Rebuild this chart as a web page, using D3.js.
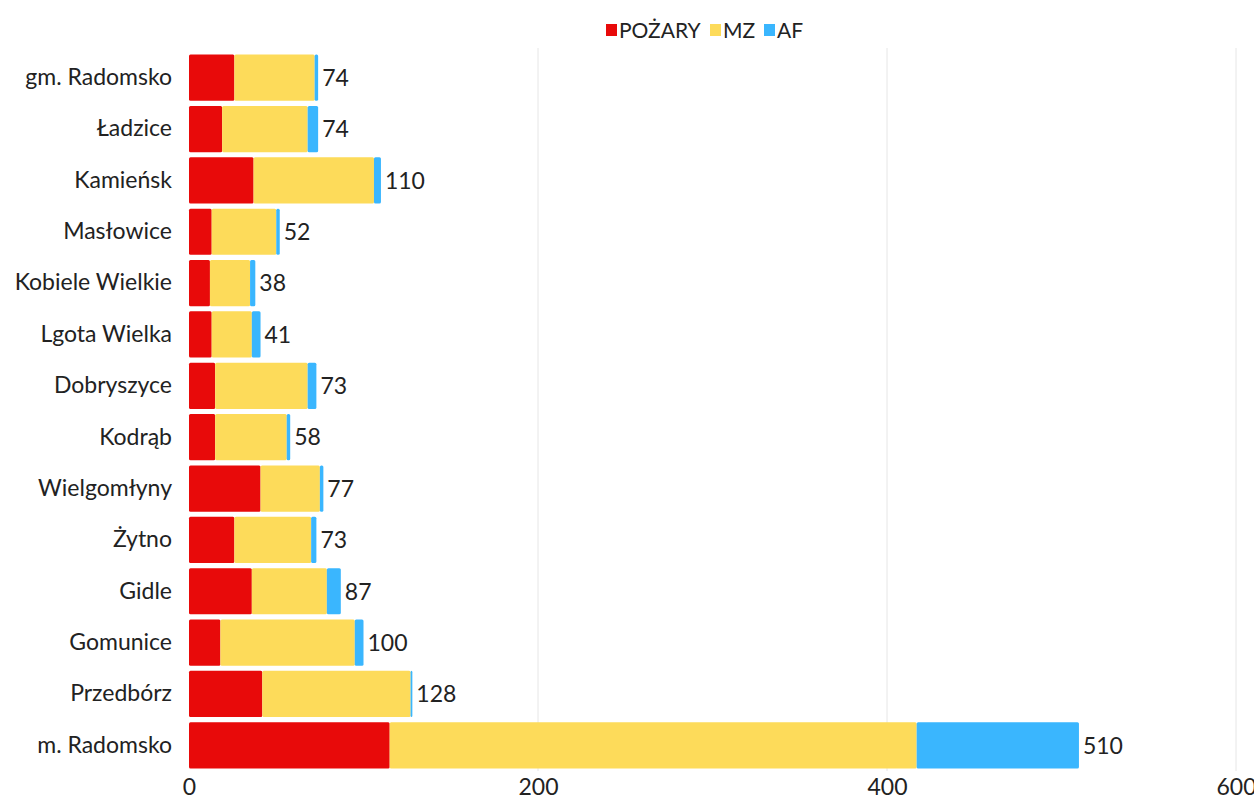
<!DOCTYPE html>
<html>
<head>
<meta charset="utf-8">
<script src="https://cdn.jsdelivr.net/npm/d3@7"></script>
<style>
  body { margin: 0; background: #fff; }
  text { font-family: Lato, "Noto Sans", sans-serif; fill: #222; }
</style>
</head>
<body>
<div id="chart"></div>
<script>
// chart size and margins
const width = 1254;
const height = 805;
const margin = {left: 189, right: 18, top: 52, bottom: 34};

// data
const gminy = ["gm. Radomsko", "Ładzice", "Kamieńsk", "Masłowice", "Kobiele Wielkie",
  "Lgota Wielka", "Dobryszyce", "Kodrąb", "Wielgomłyny", "Żytno", "Gidle",
  "Gomunice", "Przedbórz", "m. Radomsko"];
const pozary = [26, 19, 37, 13, 12, 13, 15, 15, 41, 26, 36, 18, 42, 115];
const mz     = [46, 49, 69, 37, 23, 23, 53, 41, 34, 44, 43, 77, 85, 302];
const af     = [2, 6, 4, 2, 3, 5, 5, 2, 2, 3, 8, 5, 1, 93];
const seriesNames = ["POŻARY", "MZ", "AF"];
const colors = ["#e80a0a", "#fddb5a", "#3ab6fe"];
const xTicks = [0, 200, 400, 600];

const rows = gminy.map((g, i) => ({name: g, POŻARY: pozary[i], MZ: mz[i], AF: af[i],
  total: pozary[i] + mz[i] + af[i]}));

const svg = d3.select("#chart")
  .append("svg")
  .attr("width", width)
  .attr("height", height);

const x = d3.scaleLinear()
  .domain([0, 600])
  .range([margin.left, margin.left + 1047]);

const y = d3.scaleBand()
  .domain(gminy)
  .range([margin.top, height - margin.bottom])
  .paddingInner(0.1)
  .paddingOuter(0.05);

// grid lines
svg.append("g")
  .selectAll("line")
  .data(xTicks.slice(1))
  .join("line")
    .attr("x1", d => x(d)).attr("x2", d => x(d))
    .attr("y1", margin.top - 4).attr("y2", height - margin.bottom)
    .attr("stroke", "#e6e6e6")
    .attr("stroke-width", 1);

// stacked bars
const stack = d3.stack().keys(seriesNames)(rows);

svg.append("g")
  .selectAll("g")
  .data(stack)
  .join("g")
    .attr("fill", (d, i) => colors[i])
  .selectAll("rect")
  .data(d => d)
  .join("rect")
    .attr("x", d => x(d[0]))
    .attr("y", d => y(d.data.name))
    .attr("width", d => x(d[1]) - x(d[0]))
    .attr("height", y.bandwidth())
    .attr("rx", 1.5);

// total labels
svg.append("g")
  .selectAll("text")
  .data(rows)
  .join("text")
    .attr("x", d => x(d.total) + 4)
    .attr("y", d => y(d.name) + y.bandwidth() / 2)
    .attr("dy", "0.36em")
    .attr("font-size", "23px")
    .text(d => d.total);

// category axis
svg.append("g")
  .attr("transform", `translate(${margin.left},0)`)
  .call(d3.axisLeft(y).tickSize(0).tickPadding(17))
  .call(g => g.select(".domain").remove())
  .selectAll("text")
    .attr("font-size", "23px")
    .style("font-family", "Lato, 'Noto Sans', sans-serif")
    .attr("fill", "#222");

// value axis
svg.append("g")
  .attr("transform", `translate(0,${height - margin.bottom})`)
  .call(d3.axisBottom(x).tickValues(xTicks).tickSize(0).tickPadding(8))
  .call(g => g.select(".domain").remove())
  .selectAll("text")
    .attr("font-size", "23px")
    .style("font-family", "Lato, 'Noto Sans', sans-serif")
    .attr("fill", "#222");

// legend
const legendPos = [606, 710, 764];
const legend = svg.append("g")
  .selectAll("g")
  .data(seriesNames)
  .join("g")
    .attr("transform", (d, i) => `translate(${legendPos[i]},30)`);

legend.append("rect")
  .attr("x", 0).attr("y", -6)
  .attr("width", 11).attr("height", 12)
  .attr("fill", (d, i) => colors[i]);

legend.append("text")
  .attr("x", 13)
  .attr("dy", "0.36em")
  .attr("font-size", "21px")
  .text(d => d);
</script>
</body>
</html>
